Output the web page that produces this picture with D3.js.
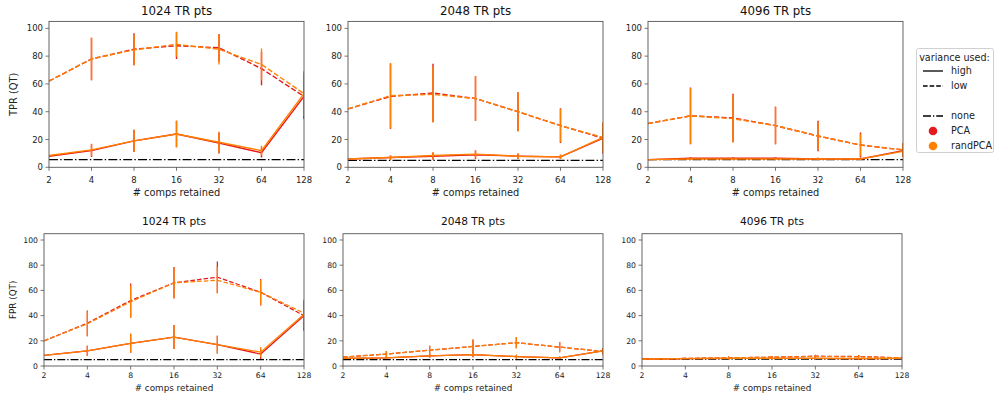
<!DOCTYPE html>
<html>
<head>
<meta charset="utf-8">
<script src="https://cdn.jsdelivr.net/npm/d3@7"></script>
<style>
  body { margin: 0; background: #fff; }
  svg { font-family: "DejaVu Sans", sans-serif; }
</style>
</head>
<body>
<svg id="chart" width="1002" height="398"></svg>
<script>
// x values and ticks
const comps = [2, 4, 8, 16, 32, 64, 128];
const yTicks = [0, 20, 40, 60, 80, 100];
const titles = ['1024 TR pts', '2048 TR pts', '4096 TR pts'];
const rowLabels = ['TPR (QT)', 'FPR (QT)'];

// TPR, 1024
const tpr1024PcaHigh = [8, 12, 19, 24, 17.5, 10.5, 51];
const tpr1024PcaHighSd = [0, 4.5, 8, 9.5, 7.5, 3.5, 16];
const tpr1024RandHigh = [8.5, 12.5, 19, 24, 18, 12, 53];
const tpr1024RandHighSd = [0, 4.5, 8, 9.5, 7.5, 3.5, 16];
const tpr1024PcaLow = [62, 78, 85, 87.5, 86, 71, 51];
const tpr1024PcaLowSd = [0, 15, 11.5, 9.5, 10, 12, 16];
const tpr1024RandLow = [62, 78, 84.5, 88.5, 85, 74, 53];
const tpr1024RandLowSd = [0, 15.5, 11, 9, 11, 11.5, 16];
const tpr1024None = 5.5;

// TPR, 2048
const tpr2048PcaHigh = [6, 7, 8, 9, 8, 7.5, 21];
const tpr2048PcaHighSd = [0, 1.5, 2.5, 3, 2, 1.5, 11];
const tpr2048RandHigh = [6, 7, 8.5, 9.5, 8, 7.5, 21.5];
const tpr2048RandHighSd = [0, 1.5, 2.5, 3, 2, 1.5, 11];
const tpr2048PcaLow = [42, 51, 53.5, 49.5, 40, 30, 21];
const tpr2048PcaLowSd = [0, 23.5, 21, 16, 14, 12.5, 10.5];
const tpr2048RandLow = [42, 51.5, 52.5, 49.5, 40, 30, 21.5];
const tpr2048RandLowSd = [0, 23.5, 20, 16, 14, 12, 10.5];
const tpr2048None = 5;

// TPR, 4096
const tpr4096PcaHigh = [5.5, 6.5, 6.5, 6.5, 6, 6, 12];
const tpr4096PcaHighSd = [0, 1, 1, 1, 0.8, 0.8, 2];
const tpr4096RandHigh = [5.5, 6, 6, 6, 6, 6, 11.5];
const tpr4096RandHighSd = [0, 1, 1, 1, 0.8, 0.8, 2];
const tpr4096PcaLow = [31.5, 37, 35.5, 30, 22.5, 16, 12.5];
const tpr4096PcaLowSd = [0, 20.5, 17.5, 13.5, 11, 9, 5];
const tpr4096RandLow = [31.5, 37, 35, 30, 22.5, 16, 12.5];
const tpr4096RandLowSd = [0, 20, 17, 13.5, 10, 8, 5];
const tpr4096None = 5.5;

// FPR, 1024
const fpr1024PcaHigh = [8.5, 12, 18, 23, 17, 9.5, 40];
const fpr1024PcaHighSd = [0, 4, 7.5, 9.5, 7, 4, 11];
const fpr1024RandHigh = [8.5, 12, 18, 23, 17, 11, 41];
const fpr1024RandHighSd = [0, 4, 7.5, 9.5, 7, 4, 11];
const fpr1024PcaLow = [20, 34, 52, 66, 70.5, 58.5, 40];
const fpr1024PcaLowSd = [0, 10, 13.5, 12.5, 12.5, 10.5, 12];
const fpr1024RandLow = [20, 33.5, 51, 66, 68, 58.5, 42];
const fpr1024RandLowSd = [0, 10, 13, 12, 10.5, 10, 11];
const fpr1024None = 5;

// FPR, 2048
const fpr2048PcaHigh = [6, 6.5, 8, 9, 7.5, 6.5, 12];
const fpr2048PcaHighSd = [0, 1, 1.5, 2, 1.5, 1, 2];
const fpr2048RandHigh = [6, 6.5, 8, 9, 7.5, 6.5, 12];
const fpr2048RandHighSd = [0, 1, 1.5, 2, 1.5, 1, 2];
const fpr2048PcaLow = [7, 9.5, 12.5, 15.5, 18.5, 15, 11.5];
const fpr2048PcaLowSd = [0, 2.5, 3.5, 5.5, 4.5, 4, 2.5];
const fpr2048RandLow = [7, 9.5, 12.5, 15.5, 18.5, 15, 11.5];
const fpr2048RandLowSd = [0, 2.5, 3.5, 5.5, 4.5, 4, 2.5];
const fpr2048None = 5;

// FPR, 4096
const fpr4096PcaHigh = [5.5, 5.8, 6, 6, 6, 5.8, 6];
const fpr4096PcaHighSd = [0, 0.5, 0.8, 0.8, 0.8, 0.8, 0.5];
const fpr4096RandHigh = [5.5, 5.8, 6, 6, 6, 5.8, 6];
const fpr4096RandHighSd = [0, 0.5, 0.8, 0.8, 0.8, 0.8, 0.5];
const fpr4096PcaLow = [5.5, 6, 6.5, 7, 7.8, 7.5, 6.5];
const fpr4096PcaLowSd = [0, 0.5, 1, 1, 1.2, 1.2, 0.8];
const fpr4096RandLow = [5.5, 6, 6.5, 7, 7.5, 7.2, 6.5];
const fpr4096RandLowSd = [0, 0.5, 1, 1, 1.2, 1.2, 0.8];
const fpr4096None = 5.5;

const colors = { PCA: '#e41a1c', randPCA: '#ff7f00' };

function mk(pH, pHs, rH, rHs, pL, pLs, rL, rLs, none) {
    return {
        none: none,
        series: [
            { method: 'PCA', kind: 'high', m: pH, sd: pHs },
            { method: 'PCA', kind: 'low', m: pL, sd: pLs },
            { method: 'randPCA', kind: 'high', m: rH, sd: rHs },
            { method: 'randPCA', kind: 'low', m: rL, sd: rLs }
        ]
    };
}

const panels = [
    [mk(tpr1024PcaHigh, tpr1024PcaHighSd, tpr1024RandHigh, tpr1024RandHighSd, tpr1024PcaLow, tpr1024PcaLowSd, tpr1024RandLow, tpr1024RandLowSd, tpr1024None),
     mk(tpr2048PcaHigh, tpr2048PcaHighSd, tpr2048RandHigh, tpr2048RandHighSd, tpr2048PcaLow, tpr2048PcaLowSd, tpr2048RandLow, tpr2048RandLowSd, tpr2048None),
     mk(tpr4096PcaHigh, tpr4096PcaHighSd, tpr4096RandHigh, tpr4096RandHighSd, tpr4096PcaLow, tpr4096PcaLowSd, tpr4096RandLow, tpr4096RandLowSd, tpr4096None)],
    [mk(fpr1024PcaHigh, fpr1024PcaHighSd, fpr1024RandHigh, fpr1024RandHighSd, fpr1024PcaLow, fpr1024PcaLowSd, fpr1024RandLow, fpr1024RandLowSd, fpr1024None),
     mk(fpr2048PcaHigh, fpr2048PcaHighSd, fpr2048RandHigh, fpr2048RandHighSd, fpr2048PcaLow, fpr2048PcaLowSd, fpr2048RandLow, fpr2048RandLowSd, fpr2048None),
     mk(fpr4096PcaHigh, fpr4096PcaHighSd, fpr4096RandHigh, fpr4096RandHighSd, fpr4096PcaLow, fpr4096PcaLowSd, fpr4096RandLow, fpr4096RandLowSd, fpr4096None)]
];

// the two rows were drawn at slightly different sizes
const rows = [
    { lefts: [49, 348, 648], w: 255, top: 21.4, bottom: 167.3, fTitle: 11.8, fTick: 8.5, fLab: 9.8, lw: 1.4,
      titleY: 15, tickY: 15.5, labY: 28.5, ylabX: 13 },
    { lefts: [44, 343, 642], w: 260, top: 233.7, bottom: 366, fTitle: 10.6, fTick: 7.7, fLab: 8.8, lw: 1.25,
      titleY: -8.5, tickY: 11.8, labY: 25, ylabX: 13 }
];

const svg = d3.select('#chart');
const defs = svg.append('defs');
const axisColor = '#555';

rows.forEach((r, ri) => {
    panels[ri].forEach((p, ci) => {
        const x0 = r.lefts[ci];
        const x = d3.scaleLog().base(2).domain([2, 128]).range([x0, x0 + r.w]);
        const y = d3.scaleLinear().domain([0, 105]).range([r.bottom, r.top]);
        const s = r.lw;

        const clipId = 'clip' + ri + ci;
        defs.append('clipPath').attr('id', clipId)
            .append('rect')
            .attr('x', x0).attr('y', r.top)
            .attr('width', r.w).attr('height', r.bottom - r.top);

        const g = svg.append('g');
        const plot = g.append('g').attr('clip-path', 'url(#' + clipId + ')');

        // baseline "none"
        plot.append('line')
            .attr('x1', x(2)).attr('x2', x(128))
            .attr('y1', y(p.none)).attr('y2', y(p.none))
            .attr('stroke', '#000').attr('stroke-width', s)
            .attr('stroke-dasharray', [6.4 * s, 1.6 * s, 1 * s, 1.6 * s].join(','));

        const line = d3.line().x((d, i) => x(comps[i])).y(d => y(d));

        p.series.forEach(se => {
            const col = colors[se.method];
            plot.append('path')
                .attr('d', line(se.m))
                .attr('fill', 'none')
                .attr('stroke', col)
                .attr('stroke-width', s)
                .attr('stroke-dasharray', se.kind === 'low' ? [3.7 * s, 1.6 * s].join(',') : null);

            plot.selectAll(null)
                .data(se.m)
                .enter().append('line')
                .attr('x1', (d, i) => x(comps[i]))
                .attr('x2', (d, i) => x(comps[i]))
                .attr('y1', (d, i) => y(d - se.sd[i]))
                .attr('y2', (d, i) => y(d + se.sd[i]))
                .attr('stroke', col)
                .attr('stroke-width', s);
        });

        // frame
        g.append('rect')
            .attr('x', x0).attr('y', r.top)
            .attr('width', r.w).attr('height', r.bottom - r.top)
            .attr('fill', 'none').attr('stroke', axisColor).attr('stroke-width', 0.9);

        // x ticks
        const xt = g.append('g');
        comps.forEach(c => {
            xt.append('line')
                .attr('x1', x(c)).attr('x2', x(c))
                .attr('y1', r.bottom).attr('y2', r.bottom + 3.5)
                .attr('stroke', axisColor).attr('stroke-width', 0.8);
            xt.append('text')
                .attr('x', x(c)).attr('y', r.bottom + r.tickY)
                .attr('text-anchor', 'middle')
                .attr('font-size', r.fTick)
                .attr('fill', '#222')
                .text(c);
        });

        // y ticks
        yTicks.forEach(t => {
            g.append('line')
                .attr('x1', x0 - 3.5).attr('x2', x0)
                .attr('y1', y(t)).attr('y2', y(t))
                .attr('stroke', axisColor).attr('stroke-width', 0.8);
            g.append('text')
                .attr('x', x0 - 6).attr('y', y(t) + r.fTick * 0.36)
                .attr('text-anchor', 'end')
                .attr('font-size', r.fTick)
                .attr('fill', '#222')
                .text(t);
        });

        g.append('text')
            .attr('x', x0 + r.w / 2).attr('y', r.bottom + r.labY)
            .attr('text-anchor', 'middle')
            .attr('font-size', r.fLab)
            .attr('fill', '#222')
            .text('# comps retained');

        g.append('text')
            .attr('x', x0 + r.w / 2)
            .attr('y', ri === 0 ? r.titleY : r.top + r.titleY)
            .attr('text-anchor', 'middle')
            .attr('font-size', r.fTitle)
            .attr('fill', '#111')
            .text(titles[ci]);

        if (ci === 0) {
            const cy = (r.top + r.bottom) / 2;
            g.append('text')
                .attr('transform', 'translate(' + r.ylabX + ',' + cy + ') rotate(-90)')
                .attr('text-anchor', 'middle')
                .attr('dominant-baseline', 'central')
                .attr('font-size', r.fLab)
                .attr('fill', '#222')
                .text(rowLabels[ri]);
        }
    });
});

// legend
const legendItems = [
    { label: 'high', type: 'line', dash: null },
    { label: 'low', type: 'line', dash: '4.6,2' },
    { label: '', type: 'blank' },
    { label: 'none', type: 'line', dash: '8,2,1.25,2', color: '#000' },
    { label: 'PCA', type: 'dot', color: colors.PCA },
    { label: 'randPCA', type: 'dot', color: colors.randPCA }
];
const lg = svg.append('g');
lg.append('rect')
    .attr('x', 916.5).attr('y', 48.5).attr('width', 77).attr('height', 104)
    .attr('rx', 2).attr('fill', '#fff').attr('stroke', '#d0d0d0').attr('stroke-width', 1);
lg.append('text')
    .attr('x', 954.5).attr('y', 60.5).attr('text-anchor', 'middle')
    .attr('font-size', 9.6).attr('fill', '#222').text('variance used:');
legendItems.forEach((it, i) => {
    const cy = 71 + i * 15;
    if (it.type === 'line') {
        lg.append('line')
            .attr('x1', 923).attr('x2', 943).attr('y1', cy).attr('y2', cy)
            .attr('stroke', '#000').attr('stroke-width', 1.3)
            .attr('stroke-dasharray', it.dash);
    } else if (it.type === 'dot') {
        lg.append('circle').attr('cx', 933).attr('cy', cy).attr('r', 4.3).attr('fill', it.color);
    }
    lg.append('text')
        .attr('x', 951).attr('y', cy + 3.4)
        .attr('font-size', 9.6).attr('fill', '#222').text(it.label);
});
</script>
</body>
</html>
